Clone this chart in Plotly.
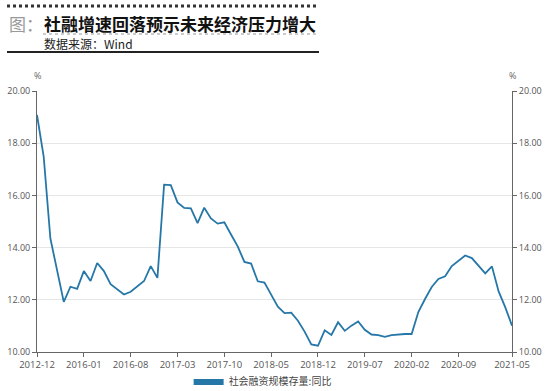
import plotly.graph_objects as go

months = ["2012-12", "2013-12", "2014-12", "2015-03", "2015-06", "2015-09", "2015-12"]
for y in range(2016, 2022):
    for m in range(1, 13):
        if y == 2021 and m > 5:
            break
        months.append(f"{y}-{m:02d}")

values = [
    19.08, 17.49, 14.35, 13.10, 11.92, 12.50, 12.42, 13.10, 12.72, 13.41,
    13.10, 12.60, 12.40, 12.20, 12.31, 12.53, 12.72, 13.29, 12.84, 16.41,
    16.39, 15.73, 15.52, 15.50, 14.94, 15.53, 15.12, 14.92, 14.97, 14.50,
    14.05, 13.45, 13.39, 12.71, 12.66, 12.20, 11.74, 11.49, 11.51, 11.20,
    10.78, 10.29, 10.24, 10.83, 10.65, 11.14, 10.81, 11.01, 11.17, 10.85,
    10.67, 10.65, 10.58, 10.65, 10.68, 10.69, 10.69, 11.53, 12.03, 12.49,
    12.80, 12.90, 13.29, 13.50, 13.70, 13.60, 13.31, 13.01, 13.28, 12.32,
    11.71, 11.01,
]

tick_labels = ["2012-12", "2016-01", "2016-08", "2017-03", "2017-10", "2018-05",
               "2018-12", "2019-07", "2020-02", "2020-09", "2021-05"]
y_ticks = [10, 12, 14, 16, 18, 20]

series_name = "社会融资规模存量:同比"
title_text = "社融增速回落预示未来经济压力增大"
source_text = "数据来源：Wind"

color = "#2577a8"
font_family = "Open Sans, Noto Sans CJK SC, sans-serif"
cjk = "Noto Sans CJK SC, sans-serif"

W, H = 550, 391
L, R, T, B = 37, 38, 91, 39
pw, ph = W - L - R, H - T - B

def px(x):
    return (x - L) / pw

def py(y):
    return (H - B - y) / ph

fig = go.Figure()
fig.add_trace(go.Scatter(x=months, y=values, mode="lines", showlegend=False,
                         line=dict(color=color, width=1.8), hoverinfo="x+y"))
fig.add_trace(go.Scatter(x=months, y=values, mode="lines", yaxis="y2", showlegend=False,
                         line=dict(color="rgba(0,0,0,0)", width=0), hoverinfo="skip"))
fig.add_trace(go.Scatter(x=[None], y=[None], mode="lines", name=series_name,
                         fill="toself", fillcolor=color, line=dict(color=color, width=0)))

axis_font = dict(family=font_family, size=9, color="#555")

fig.update_layout(
    width=W, height=H,
    margin=dict(l=L, r=R, t=T, b=B, pad=0, autoexpand=False),
    paper_bgcolor="white", plot_bgcolor="white",
    font=dict(family=font_family),
    xaxis=dict(type="category", range=[0, len(months) - 1], tickmode="array",
               tickvals=tick_labels, ticktext=tick_labels, showgrid=False,
               showline=True, linecolor="#666", linewidth=1, ticks="outside",
               ticklen=4, tickcolor="#666", tickfont=dict(family=font_family, size=9.5, color="#555"),
               zeroline=False, tickangle=0, automargin=False),
    yaxis=dict(range=[10, 20], tickvals=y_ticks, tickformat=".2f", showgrid=True,
               gridcolor="#e6e6e6", gridwidth=1, showline=True, linecolor="#666",
               linewidth=1, ticks="outside", ticklen=4, tickcolor="#666",
               tickfont=axis_font, zeroline=False, automargin=False),
    yaxis2=dict(range=[10, 20], tickvals=y_ticks, tickformat=".2f", overlaying="y",
                side="right", showgrid=False, showline=True, linecolor="#666",
                linewidth=1, ticks="outside", ticklen=4, tickcolor="#666",
                tickfont=axis_font, zeroline=False, automargin=False),
    legend=dict(orientation="h", x=0.475, xanchor="center", y=py(381), yanchor="middle",
                font=dict(family=cjk, size=10, color="#444"), bgcolor="rgba(0,0,0,0)",
                itemwidth=30),
    showlegend=True,
)

annotations = [
    dict(text="图：", x=px(7), y=py(23), xanchor="left", yanchor="middle",
         font=dict(family=cjk, size=17, color="#999"), showarrow=False),
    dict(text="<b>" + title_text + "</b>", x=px(42), y=py(23), xanchor="left",
         yanchor="middle", font=dict(family=cjk, size=17, color="#111"), showarrow=False),
    dict(text=source_text, x=px(42), y=py(43), xanchor="left", yanchor="middle",
         font=dict(family=cjk, size=12, color="#222"), showarrow=False),
    dict(text="%", x=px(37), y=py(76), xanchor="center", yanchor="middle",
         font=dict(family=font_family, size=9, color="#666"), showarrow=False),
    dict(text="%", x=px(512), y=py(76), xanchor="center", yanchor="middle",
         font=dict(family=font_family, size=9, color="#666"), showarrow=False),
]
for a in annotations:
    a.update(xref="paper", yref="paper")
fig.update_layout(annotations=annotations)

shapes = [
    dict(type="line", x0=px(7), x1=px(319), y0=py(6), y1=py(6),
         line=dict(color="#333", width=3, dash="dot")),
    dict(type="line", x0=px(43), x1=px(317), y0=py(34), y1=py(34),
         line=dict(color="#bbb", width=1.5, dash="dot")),
    dict(type="line", x0=px(7), x1=px(319), y0=py(52), y1=py(52),
         line=dict(color="#222", width=2)),
]
for s in shapes:
    s.update(xref="paper", yref="paper")
fig.update_layout(shapes=shapes)

fig.write_html("out.html", config={"displayModeBar": False},
               post_script="document.body.style.margin='0';")
